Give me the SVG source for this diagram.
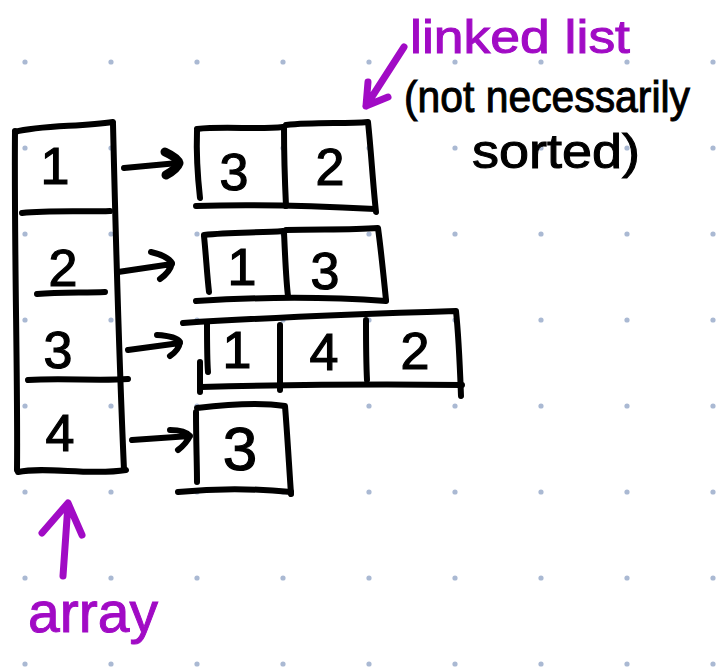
<svg xmlns="http://www.w3.org/2000/svg" width="720" height="671" viewBox="0 0 720 671">
  <defs>
    <style>
      .ink { fill: none; stroke: #000; stroke-width: 6; stroke-linecap: round; stroke-linejoin: round; }
      .pen { fill: none; stroke: #a10bc5; stroke-width: 7; stroke-linecap: round; stroke-linejoin: round; }
      .digit { font-family: "Liberation Sans", "DejaVu Sans", sans-serif; font-size: 52px; fill: #000; stroke: #000; stroke-width: 1.2; text-anchor: middle; }
      .note { font-family: "Liberation Sans", "DejaVu Sans", sans-serif; fill: #000; stroke: #000; stroke-width: 1; }
      .label { font-family: "Liberation Sans", "DejaVu Sans", sans-serif; fill: #a10bc5; stroke: #a10bc5; stroke-width: 1; }
      .dot { fill: #aab9d3; }
    </style>
    <pattern id="dots" x="0" y="0" width="86" height="86" patternUnits="userSpaceOnUse">
      <circle class="dot" cx="25" cy="62" r="2.6"/>
    </pattern>
  </defs>

  <!-- paper -->
  <rect width="720" height="671" fill="#fff"/>
  <rect width="720" height="671" fill="url(#dots)"/>

  <!-- array of buckets -->
  <g id="array">
    <path class="ink" d="M15,131 C14,250 18,380 17,470"/>
    <path class="ink" d="M113,124 C116,250 120,380 124,470"/>
    <path class="ink" d="M15,132 C40,125 80,127 113,122"/>
    <path class="ink" d="M22,213 C50,210 85,212 110,211"/>
    <path class="ink" d="M37,294 C60,292 85,293 105,292"/>
    <path class="ink" d="M28,380 C60,378 100,381 128,379"/>
    <path class="ink" d="M18,472 C45,466 90,476 126,470"/>
    <text class="digit" x="55" y="184">1</text>
    <text class="digit" x="63" y="286">2</text>
    <text class="digit" x="58" y="368">3</text>
    <text class="digit" x="60" y="451">4</text>
  </g>

  <!-- bucket 1 list: 3 -> 2 -->
  <g id="list1">
    <path class="ink" d="M197,131 C196,160 198,180 200,198"/>
    <path class="ink" d="M197,129 C225,126 260,130 283,127"/>
    <path class="ink" d="M284,127 C284,160 285,185 286,206"/>
    <path class="ink" d="M286,125 C315,122 345,124 368,122 C371,150 373,185 376,212"/>
    <path class="ink" d="M196,206 C250,204 300,205 375,209"/>
    <text class="digit" x="234" y="190">3</text>
    <text class="digit" x="330" y="185">2</text>
  </g>

  <!-- bucket 2 list: 1 -> 3 -->
  <g id="list2">
    <path class="ink" d="M204,236 C206,255 207,275 209,292"/>
    <path class="ink" d="M204,235 C230,232 260,233 283,231"/>
    <path class="ink" d="M284,232 C285,255 286,280 288,296"/>
    <path class="ink" d="M286,230 C320,229 350,230 378,228 C381,250 384,280 386,300"/>
    <path class="ink" d="M196,301 C260,297 330,297 386,301"/>
    <text class="digit" x="242" y="285">1</text>
    <text class="digit" x="325" y="289">3</text>
  </g>

  <!-- bucket 3 list: 1 -> 4 -> 2 -->
  <g id="list3">
    <path class="ink" d="M183,323 C260,318 360,314 456,311 C459,340 460,370 461,396"/>
    <path class="ink" d="M207,322 C207,340 207,360 208,372"/>
    <path class="ink" d="M200,362 C200,375 200,385 200,392"/>
    <path class="ink" d="M201,387 C280,385 380,384 462,385"/>
    <path class="ink" d="M280,325 C280,345 280,370 280,390"/>
    <path class="ink" d="M366,320 C366,340 366,360 367,380"/>
    <text class="digit" x="237" y="368">1</text>
    <text class="digit" x="324" y="370">4</text>
    <text class="digit" x="415" y="369">2</text>
  </g>

  <!-- bucket 4 list: 3 -->
  <g id="list4">
    <path class="ink" d="M196,412 C196,440 197,465 197,482"/>
    <path class="ink" d="M197,408 C230,404 260,402 285,406 C287,430 289,465 291,494"/>
    <path class="ink" d="M178,492 C220,488 260,489 291,492"/>
    <text class="digit" x="240" y="470" style="font-size:62px">3</text>
  </g>

  <!-- connectors from buckets to list heads -->
  <g id="connectors">
    <path class="ink" d="M124,168 L178,163"/>
    <path class="ink" style="stroke-width:9" d="M165,152 Q178,158 179,163 Q177,169 166,175"/>
    <path class="ink" d="M118,272 L172,264 M151,252 Q168,256 172,263 Q170,272 160,279"/>
    <path class="ink" d="M128,350 L180,343 M157,335 Q176,336 180,342 Q179,350 170,356"/>
    <path class="ink" d="M132,440 L190,436 M170,430 Q185,430 190,436 Q186,444 178,450"/>
  </g>

  <!-- annotations -->
  <g id="linked-list-note">
    <text class="label" x="410" y="53" font-size="46" textLength="220" lengthAdjust="spacingAndGlyphs">linked list</text>
    <path class="pen" d="M404,47 L366,106 M368,82 L366,106 L388,97"/>
    <text class="note" x="404" y="112" font-size="44" textLength="286" lengthAdjust="spacingAndGlyphs">(not necessarily</text>
    <text class="note" x="472" y="168" font-size="48" textLength="168" lengthAdjust="spacingAndGlyphs">sorted)</text>
  </g>

  <g id="array-note">
    <path class="pen" d="M68,504 L63,576 M42,533 L68,503 L82,535"/>
    <text class="label" x="28" y="632" font-size="58" textLength="130" lengthAdjust="spacingAndGlyphs">array</text>
  </g>
</svg>
